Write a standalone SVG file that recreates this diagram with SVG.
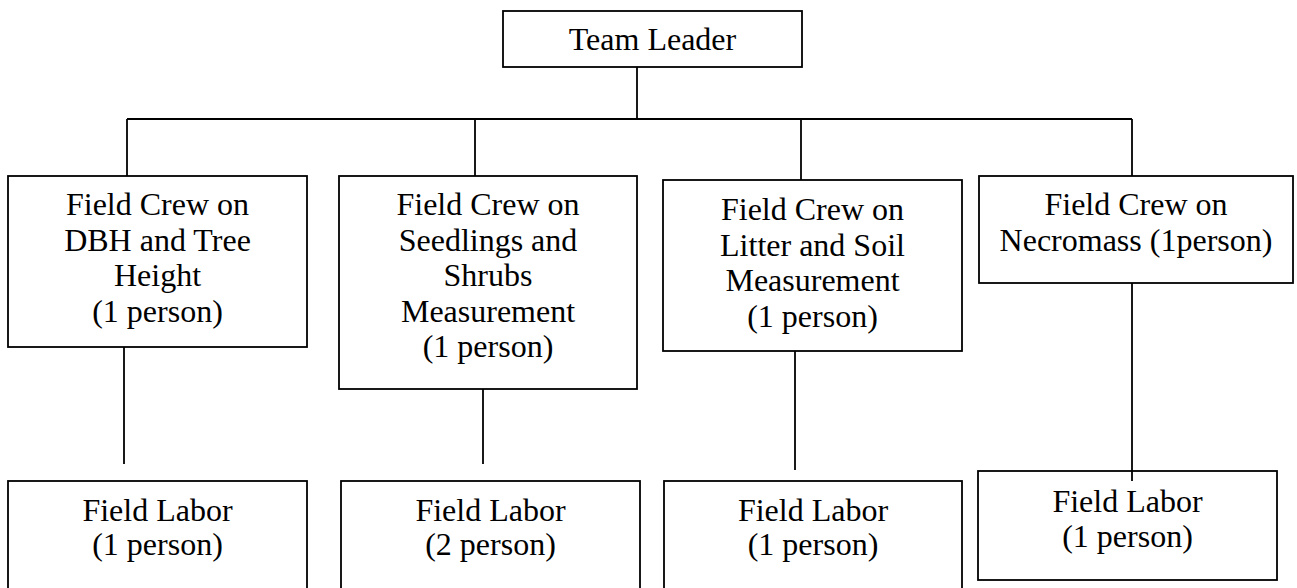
<svg xmlns="http://www.w3.org/2000/svg" width="1297" height="588" viewBox="0 0 1297 588">
<style>
.box{fill:#fff;stroke:#000;stroke-width:1.8}
.ln{stroke:#000;stroke-width:1.8;fill:none}
.t{font-family:"Liberation Serif","Times New Roman",serif;font-size:32px;fill:#000;text-anchor:middle}
</style>
<rect width="1297" height="588" fill="#fff"/>
<g id="connectors">
<line class="ln" x1="637" y1="67" x2="637" y2="119"/>
<line class="ln" x1="127" y1="119" x2="1132" y2="119"/>
<line class="ln" x1="127" y1="119" x2="127" y2="176"/>
<line class="ln" x1="475" y1="119" x2="475" y2="176"/>
<line class="ln" x1="801" y1="119" x2="801" y2="180"/>
<line class="ln" x1="1132" y1="119" x2="1132" y2="176"/>
<line class="ln" x1="124" y1="347" x2="124" y2="464"/>
<line class="ln" x1="483" y1="389" x2="483" y2="464"/>
<line class="ln" x1="795" y1="351" x2="795" y2="470"/>
</g>
<g id="team-leader">
<rect class="box" x="503" y="11" width="299" height="56"/>
<text class="t" x="652.5" y="50">Team Leader</text>
</g>
<g id="crew-dbh">
<rect class="box" x="8" y="176" width="299" height="171"/>
<text class="t" x="157.5" y="215">Field Crew on</text>
<text class="t" x="157.5" y="250.5">DBH and Tree</text>
<text class="t" x="157.5" y="286">Height</text>
<text class="t" x="157.5" y="321.5">(1 person)</text>
</g>
<g id="crew-seedlings">
<rect class="box" x="339" y="176" width="298" height="213"/>
<text class="t" x="488" y="215">Field Crew on</text>
<text class="t" x="488" y="250.5">Seedlings and</text>
<text class="t" x="488" y="286">Shrubs</text>
<text class="t" x="488" y="321.5">Measurement</text>
<text class="t" x="488" y="357">(1 person)</text>
</g>
<g id="crew-litter">
<rect class="box" x="663" y="180" width="299" height="171"/>
<text class="t" x="812.5" y="220">Field Crew on</text>
<text class="t" x="812.5" y="255.5">Litter and Soil</text>
<text class="t" x="812.5" y="291">Measurement</text>
<text class="t" x="812.5" y="326.5">(1 person)</text>
</g>
<g id="crew-necromass">
<rect class="box" x="979" y="176" width="314" height="107"/>
<text class="t" x="1136" y="215">Field Crew on</text>
<text class="t" x="1136" y="251">Necromass (1person)</text>
</g>
<g id="labor-1">
<rect class="box" x="8" y="481" width="299" height="130"/>
<text class="t" x="157.5" y="521">Field Labor</text>
<text class="t" x="157.5" y="555">(1 person)</text>
</g>
<g id="labor-2">
<rect class="box" x="341" y="481" width="299" height="130"/>
<text class="t" x="490.5" y="521">Field Labor</text>
<text class="t" x="490.5" y="555">(2 person)</text>
</g>
<g id="labor-3">
<rect class="box" x="664" y="481" width="298" height="130"/>
<text class="t" x="813" y="521">Field Labor</text>
<text class="t" x="813" y="555">(1 person)</text>
</g>
<g id="labor-4">
<rect class="box" x="978" y="471" width="299" height="109"/>
<text class="t" x="1127.5" y="512">Field Labor</text>
<text class="t" x="1127.5" y="547">(1 person)</text>
</g>
<g id="connector-overlay">
<line class="ln" x1="1132" y1="283" x2="1132" y2="481"/>
</g>
</svg>
